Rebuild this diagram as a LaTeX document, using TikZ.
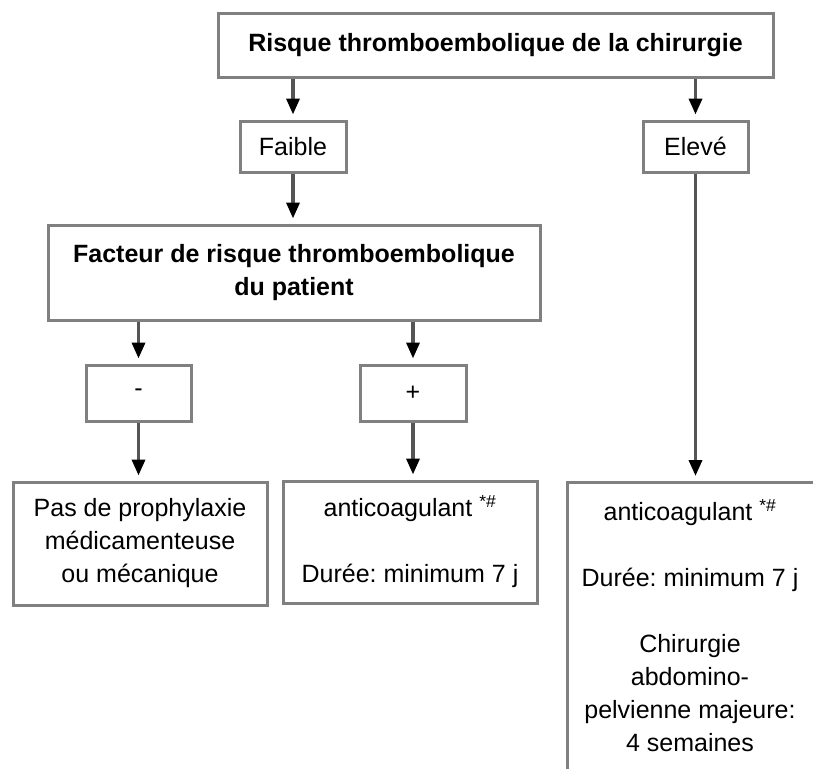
\documentclass[tikz,border=0pt]{standalone}
\usepackage{fontspec}
\setmainfont{Liberation Sans}
\usetikzlibrary{arrows.meta}
\definecolor{boxgray}{HTML}{808080}
\definecolor{shaft}{HTML}{555555}
\frenchspacing
\begin{document}
\begin{tikzpicture}[x=1pt,y=-1pt,
  box/.style={draw=boxgray, line width=3pt, fill=white, inner sep=0pt, align=center, font=\fontsize{25}{33}\selectfont},
  bbox/.style={box, font=\fontsize{25}{33}\selectfont\bfseries},
  txt/.style={inner sep=0pt, align=center, font=\fontsize{25}{33}\selectfont},
  arr/.style={draw=shaft, line width=3.5pt, -{Triangle[length=16pt,width=13pt,color=black]}, shorten >=5pt}]
\useasboundingbox (0,0) rectangle (813,768);
\clip (0,0) rectangle (813,768);
\node[bbox, minimum width=555pt, minimum height=63pt] (top) at (495.5,45.5) {Risque thromboembolique de la chirurgie};
\node[box, minimum width=106pt, minimum height=51pt] (faible) at (293,146.5) {Faible};
\node[box, minimum width=105pt, minimum height=51pt] (eleve) at (695.5,146.5) {Elevé};
\node[bbox, minimum width=492pt, minimum height=95pt] (facteur) at (294,272.5) {Facteur de risque thromboembolique\\du patient};
\node[box, minimum width=105pt, minimum height=56pt] (moins) at (138.5,393) {-};
\node[box, minimum width=106pt, minimum height=56pt] (plus) at (413,393) {+};
\node[box, minimum width=254pt, minimum height=123pt] (lbox) at (140,543.5) {Pas de prophylaxie\\médicamenteuse\\ou mécanique};
\node[box, minimum width=254pt, minimum height=122pt] (mbox) at (410,542) {anticoagulant \textsuperscript{*\#}\\[33pt]Durée: minimum 7 j};
\node[box, minimum width=260pt, minimum height=330pt, anchor=north west] (rbox) at (566,481) {};
\node[txt] (rtext) at (690,626) {anticoagulant \textsuperscript{*\#}\\[33pt]Durée: minimum 7 j\\[33pt]Chirurgie\\abdomino-\\pelvienne majeure:\\4 semaines};
\draw[arr] (top.south -| faible.north) -- (faible.north);
\draw[arr] (top.south -| eleve.north) -- (eleve.north);
\draw[arr] (faible.south) -- (facteur.north -| faible.south);
\draw[arr] (facteur.south -| moins.north) -- (moins.north);
\draw[arr] (facteur.south -| plus.north) -- (plus.north);
\draw[arr] (moins.south) -- (lbox.north -| moins.south);
\draw[arr] (plus.south) -- (mbox.north -| plus.south);
\draw[arr] (eleve.south) -- (rbox.north -| eleve.south);
\end{tikzpicture}
\end{document}
